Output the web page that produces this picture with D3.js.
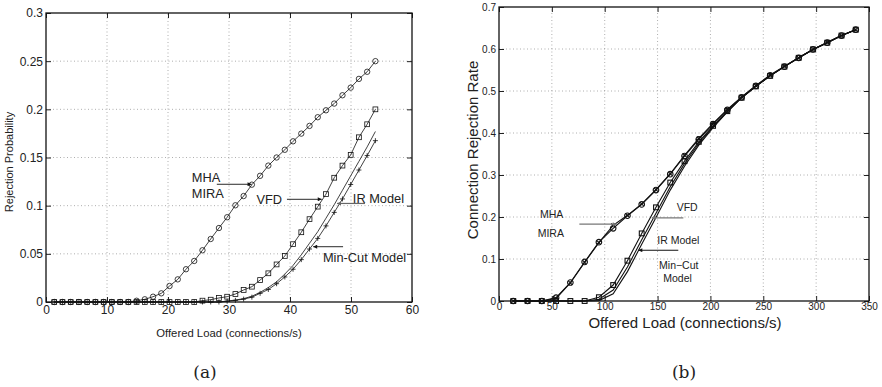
<!DOCTYPE html>
<html>
<head>
<meta charset="utf-8">
<script src="https://cdn.jsdelivr.net/npm/d3@7"></script>
<style>
  body { margin: 0; background: #fff; }
  svg text { font-family: "Liberation Sans", Arial, sans-serif; fill: #222; }
</style>
</head>
<body>
<svg id="chart" width="882" height="387"></svg>
<script>
// ---- panel (a) data : offered load 1.35 .. 54 (step 1.35)
var loadA = d3.range(1, 41).map(function (k) { return +(k * 1.35).toFixed(2) })
var mhaA = [0, 0, 0, 0, 0, 0, 0, 0, 0, 0,
  0.0013, 0.0028, 0.0055, 0.009, 0.0166, 0.0235, 0.034, 0.0426, 0.0537, 0.0654,
  0.0768, 0.088, 0.1004, 0.110, 0.1218, 0.131, 0.1416, 0.150, 0.158, 0.1668,
  0.1748, 0.1828, 0.1918, 0.199, 0.206, 0.2146, 0.2225, 0.2316, 0.239, 0.250]
var vfdA = [0, 0, 0, 0, 0, 0, 0, 0, 0, 0,
  0, 0, 0, 0, 0, 0, 0, 0, 0.0014, 0.0024,
  0.0042, 0.0055, 0.0083, 0.0125, 0.0159, 0.0228, 0.0298, 0.039, 0.0478, 0.060,
  0.0724, 0.086, 0.099, 0.112, 0.129, 0.1416, 0.1527, 0.171, 0.1845, 0.200]
var irA = [0, 0, 0, 0, 0, 0, 0, 0, 0, 0,
  0, 0, 0, 0, 0, 0, 0, 0, 0, 0,
  0, 0.001, 0.002, 0.0035, 0.006, 0.010, 0.015, 0.021, 0.029, 0.038,
  0.049, 0.061, 0.073, 0.087, 0.101, 0.116, 0.131, 0.146, 0.161, 0.177]
var minCutA = [0, 0, 0, 0, 0, 0, 0, 0, 0, 0,
  0, 0, 0, 0, 0, 0, 0, 0, 0, 0,
  0, 0.0008, 0.0017, 0.003, 0.005, 0.009, 0.013, 0.019, 0.026, 0.034,
  0.044, 0.055, 0.066, 0.079, 0.093, 0.107, 0.122, 0.137, 0.152, 0.1675]
var xTicksA = [0, 10, 20, 30, 40, 50, 60]
var yTicksA = [0, 0.05, 0.1, 0.15, 0.2, 0.25, 0.3]

// ---- panel (b) data : offered load 13.5 .. 337.5 (step 13.5)
var loadB = d3.range(1, 26).map(function (k) { return k * 13.5 })
var mhaB = [0, 0, 0, 0.008, 0.044, 0.093, 0.140, 0.173, 0.203, 0.230,
  0.264, 0.302, 0.345, 0.385, 0.421, 0.455, 0.485, 0.512, 0.537, 0.558,
  0.579, 0.599, 0.615, 0.632, 0.646]
var miraB = [0, 0, 0, 0.006, 0.043, 0.092, 0.139, 0.180, 0.204, 0.231,
  0.265, 0.303, 0.347, 0.387, 0.423, 0.456, 0.486, 0.513, 0.538, 0.559,
  0.579, 0.599, 0.616, 0.632, 0.646]
var vfdB = [0, 0, 0, 0, 0, 0, 0.009, 0.038, 0.096, 0.161,
  0.223, 0.282, 0.333, 0.379, 0.417, 0.452, 0.484, 0.511, 0.536, 0.558,
  0.579, 0.599, 0.615, 0.632, 0.646]
var irB = [0, 0, 0, 0, 0, 0, 0.004, 0.026, 0.081, 0.146,
  0.209, 0.272, 0.327, 0.375, 0.415, 0.451, 0.484, 0.511, 0.536, 0.558,
  0.579, 0.599, 0.615, 0.632, 0.646]
var minCutB = [0, 0, 0, 0, 0, 0, 0.001, 0.017, 0.070, 0.135,
  0.199, 0.264, 0.321, 0.371, 0.413, 0.450, 0.484, 0.511, 0.536, 0.558,
  0.579, 0.599, 0.615, 0.632, 0.646]
var xTicksB = [0, 50, 100, 150, 200, 250, 300, 350]
var yTicksB = [0, 0.1, 0.2, 0.3, 0.4, 0.5, 0.6, 0.7]

var svg = d3.select("#chart")

svg.append("defs").append("marker")
    .attr("id", "head")
    .attr("viewBox", "0 0 10 10")
    .attr("refX", 10).attr("refY", 5)
    .attr("markerWidth", 6).attr("markerHeight", 4)
    .attr("markerUnits", "userSpaceOnUse")
    .attr("orient", "auto")
  .append("path")
    .attr("d", "M0,0L10,5L0,10Z")
    .attr("fill", "context-stroke")

// draws a framed MATLAB style panel and returns its scales
function panel(opt) {
    var x = d3.scaleLinear().domain(opt.xDomain).range(opt.xRange)
    var y = d3.scaleLinear().domain(opt.yDomain).range(opt.yRange)
    var g = svg.append("g")

    // dotted grid
    g.selectAll(".gx").data(opt.xTicks.slice(1, -1)).enter().append("line")
        .attr("x1", x).attr("x2", x)
        .attr("y1", opt.yRange[0]).attr("y2", opt.yRange[1])
        .attr("stroke", "#999").attr("stroke-width", 0.8).attr("stroke-dasharray", "1,2.5")
    g.selectAll(".gy").data(opt.yTicks.slice(1, -1)).enter().append("line")
        .attr("y1", y).attr("y2", y)
        .attr("x1", opt.xRange[0]).attr("x2", opt.xRange[1])
        .attr("stroke", "#999").attr("stroke-width", 0.8).attr("stroke-dasharray", "1,2.5")

    // axes with inward ticks
    var fmt = opt.yFormat
    g.append("g").attr("transform", "translate(0," + opt.yRange[0] + ")")
        .call(d3.axisBottom(x).tickValues(opt.xTicks).tickSizeInner(-5).tickSizeOuter(0).tickPadding(opt.xPad))
    g.append("g").attr("transform", "translate(0," + opt.yRange[1] + ")")
        .call(d3.axisTop(x).tickValues(opt.xTicks).tickSizeInner(-5).tickSizeOuter(0).tickFormat(""))
    g.append("g").attr("transform", "translate(" + opt.xRange[0] + ",0)")
        .call(d3.axisLeft(y).tickValues(opt.yTicks).tickSizeInner(-5).tickSizeOuter(0).tickPadding(opt.yPad).tickFormat(fmt))
    g.append("g").attr("transform", "translate(" + opt.xRange[1] + ",0)")
        .call(d3.axisRight(y).tickValues(opt.yTicks).tickSizeInner(-5).tickSizeOuter(0).tickFormat(""))
    g.selectAll(".domain").remove()
    g.selectAll(".tick line").attr("stroke", "#222")
    g.selectAll(".tick text").style("font-size", opt.tickFont + "px").attr("fill", "#222")
    g.append("rect")
        .attr("x", opt.xRange[0]).attr("y", opt.yRange[1])
        .attr("width", opt.xRange[1] - opt.xRange[0])
        .attr("height", opt.yRange[0] - opt.yRange[1])
        .attr("fill", "none").attr("stroke", "#111").attr("stroke-width", 1.3)
    return { x: x, y: y, g: g }
}

function series(p, xs, ys, marker, lw, r) {
    var pts = xs.map(function (d, i) { return [p.x(d), p.y(ys[i])] })
    p.g.append("path")
        .attr("d", d3.line()(pts))
        .attr("fill", "none").attr("stroke", "#111").attr("stroke-width", lw)
    var m = p.g.append("g").selectAll("g").data(pts).enter().append("g")
        .attr("transform", function (d) { return "translate(" + d[0] + "," + d[1] + ")" })
        .attr("fill", "none").attr("stroke", "#111").attr("stroke-width", lw)
    if (marker.indexOf("o") >= 0) m.append("circle").attr("r", r)
    if (marker.indexOf("s") >= 0) m.append("rect").attr("x", -r).attr("y", -r).attr("width", 2 * r).attr("height", 2 * r)
    if (marker.indexOf("x") >= 0) m.append("path").attr("d", "M" + (-r * 0.7) + "," + (-r * 0.7) + "L" + (r * 0.7) + "," + (r * 0.7) + "M" + (-r * 0.7) + "," + (r * 0.7) + "L" + (r * 0.7) + "," + (-r * 0.7))
    if (marker.indexOf("+") >= 0) m.append("path").attr("d", "M" + (-r) + ",0H" + r + "M0," + (-r) + "V" + r)
}

function note(p, lines, x0, y0, dy, size) {
    lines.forEach(function (t, i) {
        p.g.append("text")
            .attr("x", p.x(x0[i])).attr("y", p.y(y0) + i * dy)
            .attr("dy", "0.35em")
            .style("font-size", size + "px")
            .text(t)
    })
}

function arrow(p, x1, x2, yv, color, lw) {
    p.g.append("line")
        .attr("x1", p.x(x1)).attr("x2", p.x(x2))
        .attr("y1", p.y(yv)).attr("y2", p.y(yv))
        .attr("stroke", color).attr("stroke-width", lw)
        .attr("marker-end", "url(#head)")
}

// ---------------- panel (a)
var a = panel({
    xDomain: [0, 60], yDomain: [0, 0.3],
    xRange: [46, 412], yRange: [302, 13],
    xTicks: xTicksA, yTicks: yTicksA,
    yFormat: function (d) { return d === 0 ? "0" : String(d) },
    tickFont: 12, xPad: 3, yPad: 3
})
series(a, loadA, irA, "", 0.8, 2.5)
series(a, loadA, minCutA, "+", 0.8, 2.5)
series(a, loadA, vfdA, "s", 0.8, 2.4)
series(a, loadA, mhaA, "o", 0.8, 2.7)

note(a, ["MHA", "MIRA"], [23.9, 23.9], 0.129, 15.3, 12.8)
arrow(a, 28.0, 33.7, 0.1222, "#111", 0.9)
note(a, ["VFD"], [34.5], 0.1066, 0, 12.8)
arrow(a, 39.5, 45.2, 0.1066, "#111", 0.9)
note(a, ["IR Model"], [50.3], 0.1077, 0, 12.8)
arrow(a, 52.3, 47.7, 0.1023, "#666", 1.2)
note(a, ["Min-Cut Model"], [45.4], 0.0457, 0, 12.8)
arrow(a, 48.7, 43.8, 0.0574, "#111", 0.9)

a.g.append("text").attr("x", 229).attr("y", 337)
    .attr("text-anchor", "middle").style("font-size", "11.3px")
    .text("Offered Load (connections/s)")
a.g.append("text").attr("transform", "translate(13,162) rotate(-90)")
    .attr("text-anchor", "middle").style("font-size", "11px")
    .text("Rejection Probability")

// ---------------- panel (b)
var b = panel({
    xDomain: [0, 350], yDomain: [0, 0.7],
    xRange: [499, 869], yRange: [301, 7],
    xTicks: xTicksB, yTicks: yTicksB,
    yFormat: function (d) { return d === 0 ? "0" : d3.format(".1f")(d) },
    tickFont: 10, xPad: 2, yPad: 3
})
series(b, loadB, minCutB, "", 1.1, 2.5)
series(b, loadB, irB, "", 1.1, 2.5)
series(b, loadB, vfdB, "s", 1.1, 2.4)
series(b, loadB, miraB, "x", 1.1, 2.8)
series(b, loadB, mhaB, "o", 1.1, 2.8)

note(b, ["MHA", "MIRA"], [38.8, 36.6], 0.207, 19.5, 10.5)
arrow(b, 76, 111.4, 0.183, "#777", 1.4)
note(b, ["VFD"], [168.1], 0.223, 0, 10.5)
arrow(b, 174.4, 144.5, 0.198, "#777", 1.4)
note(b, ["IR Model"], [149.8], 0.1436, 0, 10.5)
arrow(b, 169.6, 131.8, 0.121, "#111", 1.1)
note(b, ["Min\u2212Cut", "Model"], [151.4, 155.4], 0.084, 12.6, 10.5)

b.g.append("text").attr("x", 685).attr("y", 328)
    .attr("text-anchor", "middle").style("font-size", "15px")
    .text("Offered Load (connections/s)")
b.g.append("text").attr("transform", "translate(478,150) rotate(-90)")
    .attr("text-anchor", "middle").style("font-size", "15px")
    .text("Connection Rejection Rate")

// captions
svg.append("text").attr("x", 205).attr("y", 378).attr("text-anchor", "middle")
    .style("font-family", "'DejaVu Serif', serif").style("font-size", "17px")
    .text("(a)")
svg.append("text").attr("x", 684).attr("y", 378).attr("text-anchor", "middle")
    .style("font-family", "'DejaVu Serif', serif").style("font-size", "17px")
    .text("(b)")
</script>
</body>
</html>
